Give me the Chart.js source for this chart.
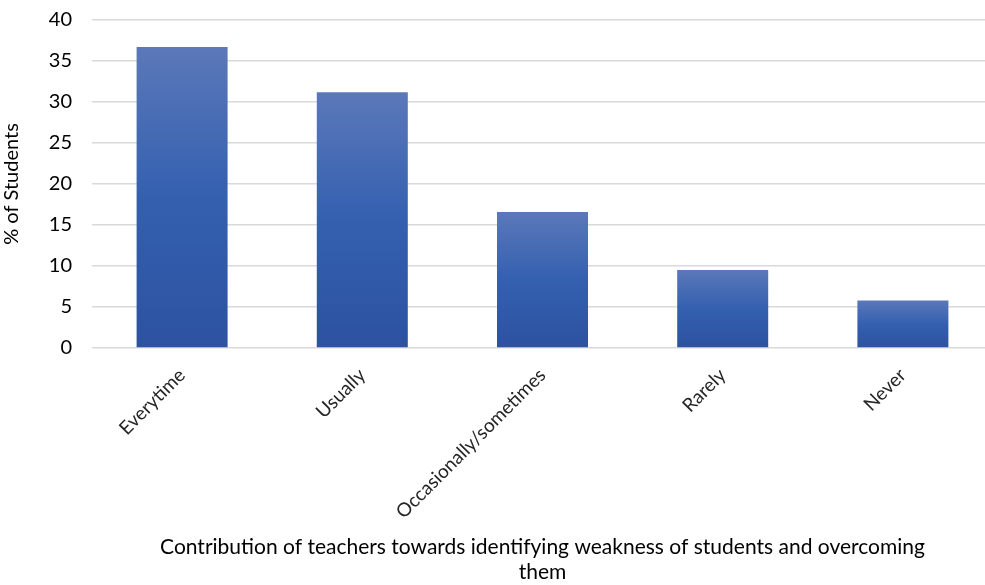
<!DOCTYPE html>
<html lang="en">
<head>
<meta charset="UTF-8">
<title>Contribution of teachers</title>
<script src="https://cdn.jsdelivr.net/npm/chart.js@4.4.0/dist/chart.umd.min.js"></script>
<style>
  html, body { margin: 0; padding: 0; background: #fff; overflow: hidden; }
  #wrap { width: 993px; height: 585px; overflow: hidden; }
  #chart { display: block; margin-top: -12px; }
</style>
</head>
<body>
<div id="wrap"><canvas id="chart" width="993" height="597"></canvas></div>
<script>
const categories = ["Everytime", "Usually", "Occasionally/sometimes", "Rarely", "Never"];
const students = [36.7, 31.2, 16.6, 9.5, 5.8];
const yTicks = [0, 5, 10, 15, 20, 25, 30, 35, 40];

const FONT = "Lato, 'Open Sans', sans-serif";

// each bar gets its own top-to-bottom gradient, like the office chart
function barFill(c) {
  const y = c.chart.scales.y;
  if (c.type !== "data" || !y || y.top === undefined) return "#3460b0";
  const top = y.getPixelForValue(c.raw);
  const base = y.getPixelForValue(0);
  const g = c.chart.ctx.createLinearGradient(0, top, 0, base);
  g.addColorStop(0, "#5b78b9");
  g.addColorStop(0.5, "#3460b0");
  g.addColorStop(1, "#2c52a0");
  return g;
}

new Chart("chart", {
  type: "bar",
  data: {
    labels: categories,
    datasets: [{
      data: students,
      backgroundColor: barFill,
      categoryPercentage: 1,
      barPercentage: 0.505
    }]
  },
  options: {
    responsive: false,
    animation: false,
    layout: { padding: { top: 1, left: 0, right: 0, bottom: 0 } },
    plugins: { legend: { display: false }, tooltip: { enabled: false } },
    scales: {
      x: {
        grid: { display: false },
        border: { display: false },
        ticks: {
          color: "#262626", font: { family: FONT, size: 19 },
          minRotation: 45, maxRotation: 45, padding: 8
        },
        title: {
          display: true,
          text: ["Contribution of teachers towards identifying weakness of students and overcoming", "them"],
          color: "#000", font: { family: FONT, size: 21, lineHeight: 1.2 }, padding: { top: 0, bottom: 0 }
        },
        afterFit(scale) { scale.height = 237; }
      },
      y: {
        min: 0, max: 40,
        afterBuildTicks(scale) { scale.ticks = yTicks.map(v => ({ value: v })); },
        grid: { color: "#d9d9d9", lineWidth: 1.5, drawTicks: false },
        border: { display: false },
        ticks: { color: "#000", font: { family: FONT, size: 20 }, padding: 20 },
        title: {
          display: true, text: "% of Students",
          color: "#000", font: { family: FONT, size: 20 }, padding: { top: 0, bottom: 6 }
        },
        afterFit(scale) { scale.width = 92; }
      }
    }
  }
});
</script>
</body>
</html>
